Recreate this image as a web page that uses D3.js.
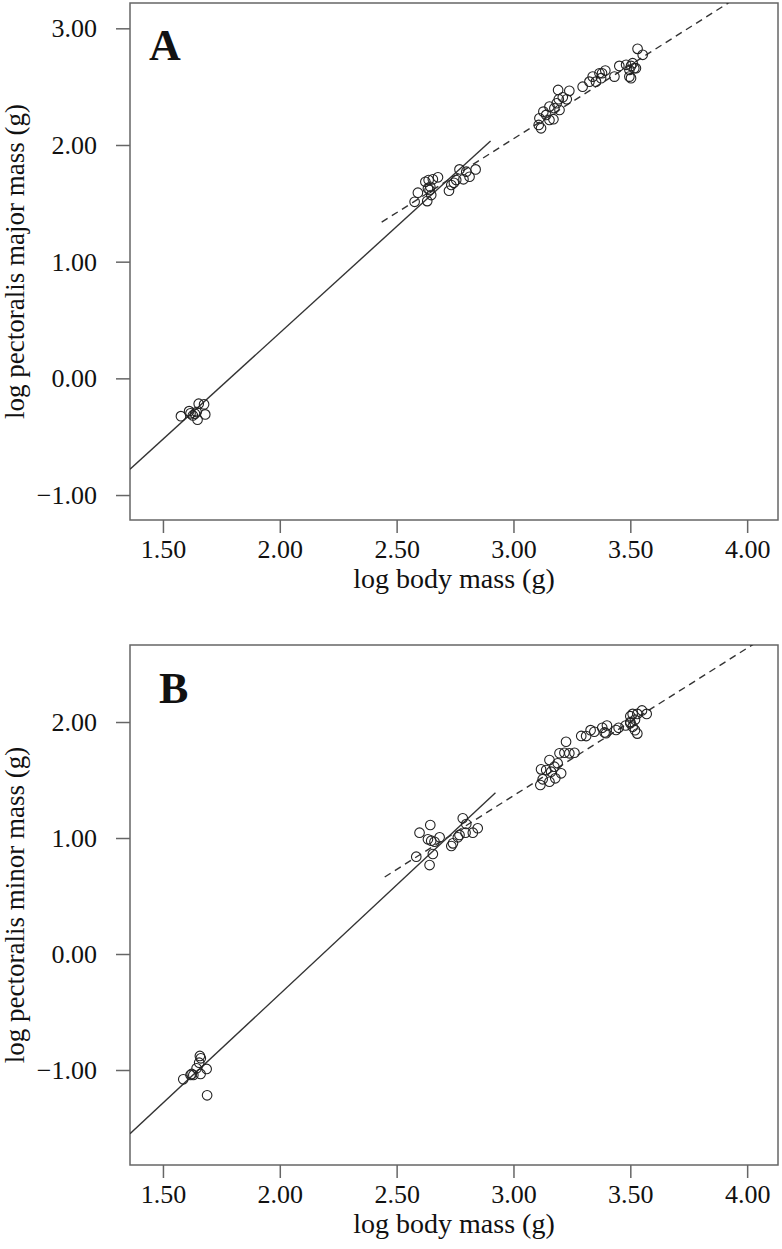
<!DOCTYPE html>
<html>
<head>
<meta charset="utf-8">
<script src="https://cdn.jsdelivr.net/npm/d3@7/dist/d3.min.js"></script>
<style>
  body { margin: 0; background: #fff; }
  svg text { font-family: "Liberation Serif", "Times New Roman", serif; fill: #111; }
</style>
</head>
<body>
<svg id="chart" width="782" height="1249"></svg>
<script>
// x ticks shared by both panels
const xTicks = [1.5, 2.0, 2.5, 3.0, 3.5, 4.0];

// Panel A: log pectoralis major mass vs log body mass
const bodyMassA = [
  1.577, 1.612, 1.618, 1.644, 1.653, 1.676, 1.681, 1.648, 1.637, 1.628,
  2.577, 2.591, 2.631, 2.623, 2.637, 2.655, 2.677, 2.644, 2.641, 2.648,
  2.634, 2.724, 2.734, 2.745, 2.769, 2.786, 2.812, 2.838, 2.798, 2.755,
  3.108, 3.118, 3.111, 3.128, 3.140, 3.154, 3.171, 3.154, 3.175, 3.185,
  3.194, 3.211, 3.228, 3.191, 3.239, 3.197, 3.296, 3.325, 3.339, 3.353,
  3.379, 3.393, 3.375, 3.432, 3.453, 3.482, 3.503, 3.496, 3.510, 3.503,
  3.524, 3.531, 3.553, 3.517, 3.496, 3.368
];
const pecMajor = [
  -0.324, -0.281, -0.300, -0.289, -0.217, -0.223, -0.309, -0.355, -0.303, -0.318,
  1.513, 1.591, 1.519, 1.685, 1.700, 1.706, 1.723, 1.642, 1.614, 1.571,
  1.628, 1.608, 1.657, 1.676, 1.791, 1.706, 1.728, 1.791, 1.771, 1.700,
  2.172, 2.143, 2.229, 2.286, 2.258, 2.215, 2.221, 2.329, 2.315, 2.358,
  2.392, 2.409, 2.392, 2.472, 2.464, 2.300, 2.500, 2.543, 2.586, 2.543,
  2.615, 2.638, 2.573, 2.586, 2.678, 2.687, 2.678, 2.644, 2.701, 2.573,
  2.658, 2.824, 2.773, 2.658, 2.586, 2.615
];
const yTicksA = [-1, 0, 1, 2, 3];
const solidFitA = [[1.359, -0.779], [2.902, 2.034]];
const dashFitA = [[2.436, 1.339], [3.92, 3.218]];

// Panel B: log pectoralis minor mass vs log body mass
const bodyMassB = [
  1.587, 1.623, 1.630, 1.658, 1.662, 1.655, 1.644, 1.687, 1.661, 1.689, 1.618,
  2.584, 2.598, 2.644, 2.634, 2.648, 2.662, 2.684, 2.655, 2.641, 2.734,
  2.741, 2.762, 2.783, 2.798, 2.795, 2.826, 2.847, 2.769,
  3.115, 3.125, 3.154, 3.179, 3.204, 3.118, 3.140, 3.154, 3.175, 3.189,
  3.197, 3.218, 3.239, 3.261, 3.225, 3.161, 3.311, 3.346, 3.396, 3.439,
  3.29, 3.33, 3.38, 3.40, 3.39, 3.45, 3.48, 3.50, 3.51, 3.50,
  3.51, 3.52, 3.53, 3.50, 3.53, 3.55, 3.57, 3.52
];
const pecMinor = [
  -1.080, -1.034, -1.043, -0.879, -0.899, -0.937, -0.985, -0.991, -1.034, -1.218, -1.043,
  0.839, 1.046, 1.112, 0.989, 0.977, 0.968, 1.006, 0.862, 0.767, 0.931,
  0.954, 1.006, 1.170, 1.121, 1.046, 1.046, 1.084, 1.026,
  1.457, 1.506, 1.485, 1.515, 1.558, 1.592, 1.586, 1.672, 1.615, 1.644,
  1.730, 1.735, 1.730, 1.735, 1.830, 1.572, 1.879, 1.916, 1.903, 1.931,
  1.88, 1.93, 1.95, 1.97, 1.91, 1.95, 1.97, 2.05, 2.07, 2.00,
  1.96, 1.93, 1.90, 1.99, 2.07, 2.10, 2.07, 2.02
];
const yTicksB = [-1, 0, 1, 2];
const solidFitB = [[1.359, -1.55], [2.923, 1.39]];
const dashFitB = [[2.449, 0.664], [4.034, 2.68]];

const svg = d3.select("#chart");
const frameColor = "#666";

// draws one panel, top/bottom are pixel edges of the plot box
function drawPanel(opts) {
  const left = 130, right = 778;
  const x = d3.scaleLinear().domain([1.359, 4.132]).range([left, right]);
  const y = d3.scaleLinear().domain(opts.yDomain).range([opts.bottom, opts.top]);

  const g = svg.append("g");
  const clipId = "clip" + opts.letter;
  g.append("clipPath").attr("id", clipId)
    .append("rect")
    .attr("x", left).attr("y", opts.top)
    .attr("width", right - left).attr("height", opts.bottom - opts.top);

  // frame
  g.append("rect")
    .attr("x", left).attr("y", opts.top)
    .attr("width", right - left).attr("height", opts.bottom - opts.top)
    .attr("fill", "none").attr("stroke", frameColor).attr("stroke-width", 1.5);

  const xAxis = g.append("g")
    .attr("transform", `translate(0,${opts.bottom})`)
    .call(d3.axisBottom(x).tickValues(xTicks).tickFormat(d3.format(".2f")).tickSize(13).tickPadding(7).tickSizeOuter(0));
  const yAxis = g.append("g")
    .attr("transform", `translate(${left},0)`)
    .call(d3.axisLeft(y).tickValues(opts.yTicks).tickFormat(d3.format(".2f")).tickSize(14).tickPadding(19).tickSizeOuter(0));

  [xAxis, yAxis].forEach(a => {
    a.attr("font-family", null);
    a.select(".domain").remove();
    a.selectAll(".tick line").attr("stroke", frameColor).attr("stroke-width", 1.5);
    a.selectAll(".tick text")
      .attr("font-size", 26)
      .attr("fill", "#111");
  });

  // axis titles
  g.append("text")
    .attr("x", (left + right) / 2).attr("y", opts.bottom + 68)
    .attr("text-anchor", "middle").attr("font-size", 28)
    .text("log body mass (g)");
  g.append("text")
    .attr("transform", `translate(24,${(opts.top + opts.bottom) / 2}) rotate(-90)`)
    .attr("text-anchor", "middle").attr("font-size", 27)
    .text(opts.yTitle);

  // panel letter
  g.append("text")
    .attr("x", opts.letterX).attr("y", opts.top + opts.letterDy)
    .attr("font-size", 44).attr("font-weight", "bold")
    .text(opts.letter);

  const plot = g.append("g").attr("clip-path", `url(#${clipId})`);
  const line = d3.line().x(d => x(d[0])).y(d => y(d[1]));

  plot.append("path").datum(opts.solid)
    .attr("d", line).attr("fill", "none")
    .attr("stroke", "#333").attr("stroke-width", 1.4);
  plot.append("path").datum(opts.dashed)
    .attr("d", line).attr("fill", "none")
    .attr("stroke", "#333").attr("stroke-width", 1.4)
    .attr("stroke-dasharray", "7,5");

  plot.selectAll("circle")
    .data(opts.xs.map((v, i) => [v, opts.ys[i]]))
    .enter().append("circle")
    .attr("cx", d => x(d[0]))
    .attr("cy", d => y(d[1]))
    .attr("r", 4.8)
    .attr("fill", "none")
    .attr("stroke", "#222")
    .attr("stroke-width", 1.1);
}

drawPanel({
  letter: "A", letterX: 149, letterDy: 57,
  top: 3, bottom: 520, yDomain: [-1.214, 3.217], yTicks: yTicksA,
  yTitle: "log pectoralis major mass (g)",
  xs: bodyMassA, ys: pecMajor, solid: solidFitA, dashed: dashFitA
});

drawPanel({
  letter: "B", letterX: 159, letterDy: 58,
  top: 645, bottom: 1165, yDomain: [-1.819, 2.664], yTicks: yTicksB,
  yTitle: "log pectoralis minor mass (g)",
  xs: bodyMassB, ys: pecMinor, solid: solidFitB, dashed: dashFitB
});
</script>
</body>
</html>
